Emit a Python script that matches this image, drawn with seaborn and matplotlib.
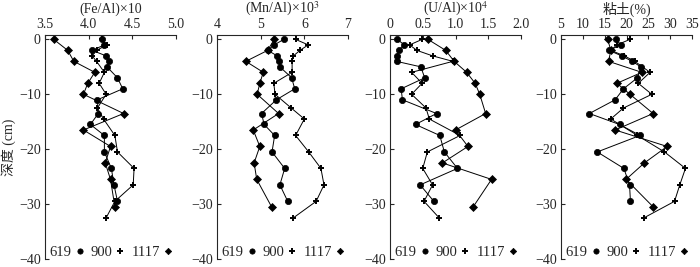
import numpy as np
import pandas as pd
import matplotlib
matplotlib.use("Agg")
import matplotlib.pyplot as plt
from matplotlib.lines import Line2D
import seaborn as sns

sns.set_style("ticks")
plt.rcParams['font.family'] = ['Liberation Serif', 'Noto Sans CJK SC']
plt.rcParams['mathtext.fontset'] = 'stix'

# depths (cm) of each core's samples
depth_619 = [0, -1, -2, -3, -4, -5, -7, -9, -11, -13.5, -15.5, -17.5, -20.5, -23.5, -26.5, -29.5]
depth_900 = [0, -1, -2, -3, -4, -6, -8, -10, -12.5, -14.5, -17.5, -20.5, -23.5, -26.5, -29.5, -32.5]
depth_1117 = [0, -2, -4, -6, -8, -10, -13.5, -16.5, -19.5, -22.5, -25.5, -30.5]

# (Fe/Al)x10
fe_619 = [4.15, 4.18, 4.04, 4.20, 4.23, 4.21, 4.33, 4.39, 4.10, 4.11, 4.02, 4.18, 4.18, 4.26, 4.29, 4.33]
fe_900 = [4.15, 4.21, 4.09, 4.04, 4.09, 4.18, 4.12, 4.20, 4.10, 4.17, 4.30, 4.33, 4.52, 4.51, 4.30, 4.20]
fe_1117 = [3.60, 3.76, 3.83, 4.07, 3.99, 3.94, 4.40, 3.94, 4.25, 4.19, 4.25, 4.30]

# (Mn/Al)x10^3
mn_619 = [5.53, 5.31, 5.16, 5.38, 5.42, 5.44, 5.71, 5.78, 5.36, 5.02, 5.08, 5.32, 5.26, 5.55, 5.44, 5.62]
mn_900 = [5.80, 6.09, 5.90, 5.75, 5.72, 5.72, 5.30, 5.33, 5.70, 6.00, 5.80, 6.10, 6.38, 6.45, 6.27, 5.75]
mn_1117 = [5.31, 5.16, 4.66, 5.06, 4.98, 4.92, 5.41, 4.83, 4.98, 4.85, 4.91, 5.25]

# (U/Al)x10^4
u_619 = [0.11, 0.22, 0.14, 0.10, 0.10, 0.47, 0.53, 0.17, 0.19, 0.71, 0.39, 0.76, 0.83, 1.03, 0.46, 0.67]
u_900 = [0.49, 0.30, 0.41, 0.65, 0.96, 0.33, 0.49, 0.33, 0.55, 0.60, 1.07, 0.57, 0.50, 0.65, 0.52, 0.75]
u_1117 = [0.58, 0.85, 0.98, 1.17, 1.30, 1.37, 1.46, 1.00, 1.19, 0.80, 1.55, 1.27]

# clay (%)
clay_619 = [17.6, 18.7, 16.0, 18.9, 21.3, 23.3, 22.5, 19.3, 17.4, 11.5, 18.4, 23.1, 13.3, 19.4, 20.7, 20.9]
clay_900 = [20.8, 17.8, 16.4, 19.5, 21.9, 25.4, 22.7, 25.8, 19.3, 16.4, 22.5, 28.7, 33.5, 32.2, 31.0, 24.0]
clay_1117 = [15.7, 16.4, 15.9, 23.5, 17.8, 20.8, 26.1, 17.4, 29.3, 24.1, 19.9, 26.1]

titles = ["(Fe/Al)×10", "(Mn/Al)×10$^{3}$", "(U/Al)×10$^{4}$", "粘土(%)"]
xlims = [(3.5, 5.0), (4, 7), (0, 2.0), (5, 35)]
xticks = [[3.5, 4.0, 4.5, 5.0], [4, 5, 6, 7], [0, 0.5, 1.0, 1.5, 2.0], [5, 10, 15, 20, 25, 30, 35]]
xticklabels = [["3.5", "4.0", "4.5", "5.0"], ["4", "5", "6", "7"],
               ["0", "0.5", "1.0", "1.5", "2.0"], ["5", "10", "15", "20", "25", "30", "35"]]
panels = [(fe_619, fe_900, fe_1117), (mn_619, mn_900, mn_1117),
          (u_619, u_900, u_1117), (clay_619, clay_900, clay_1117)]
sites = ["619", "900", "1117"]
depths = [depth_619, depth_900, depth_1117]
markers = ["o", "+", "D"]
msizes = [4.5, 5, 3.8]
mews = [0.5, 1.4, 0.5]

fig = plt.figure(figsize=(7, 2.67), dpi=100)
lefts = [45, 217, 390, 561]
for i in range(4):
    ax = fig.add_axes([lefts[i] / 700, 8 / 267, 131 / 700, 224 / 267])
    for j in range(3):
        df = pd.DataFrame({"v": panels[i][j], "d": depths[j]})
        sns.lineplot(data=df, x="v", y="d", sort=False, estimator=None, ax=ax,
                     color="k", lw=0.7, marker=markers[j], markersize=msizes[j],
                     markeredgewidth=mews[j], markeredgecolor="k", markerfacecolor="k")
    ax.set_xlim(*xlims[i])
    ax.set_ylim(-40, 0.8)
    ax.set_xticks(xticks[i])
    ax.set_xticklabels(xticklabels[i])
    ax.set_yticks([0, -10, -20, -30, -40])
    ax.xaxis.tick_top()
    ax.set_xlabel("")
    ax.set_ylabel("")
    for s in ["right", "bottom"]:
        ax.spines[s].set_visible(False)
    ax.spines["left"].set_linewidth(0.8)
    ax.spines["top"].set_linewidth(0.8)
    ax.tick_params(direction="in", length=3, width=0.8, labelsize=10, pad=3)
    fig.text((lefts[i] + 65.5) / 700, 1 - 9 / 267, titles[i], ha="center", va="center",
             fontsize=10)
    handles = [Line2D([], [], ls="none", marker=markers[j], color="k",
                      markersize=msizes[j] * 0.85, markeredgewidth=mews[j])
               for j in range(3)]
    ax.legend(handles, sites, loc="lower center", ncol=3, frameon=False,
              markerfirst=False, handlelength=0.5, handletextpad=0.3,
              columnspacing=0.5, fontsize=10.5, bbox_to_anchor=(0.5, -0.04),
              borderaxespad=0.2)
    if i == 0:
        ax.set_ylabel("深度 (cm)", fontsize=10, labelpad=2)

fig.savefig("out.png", dpi=100)
